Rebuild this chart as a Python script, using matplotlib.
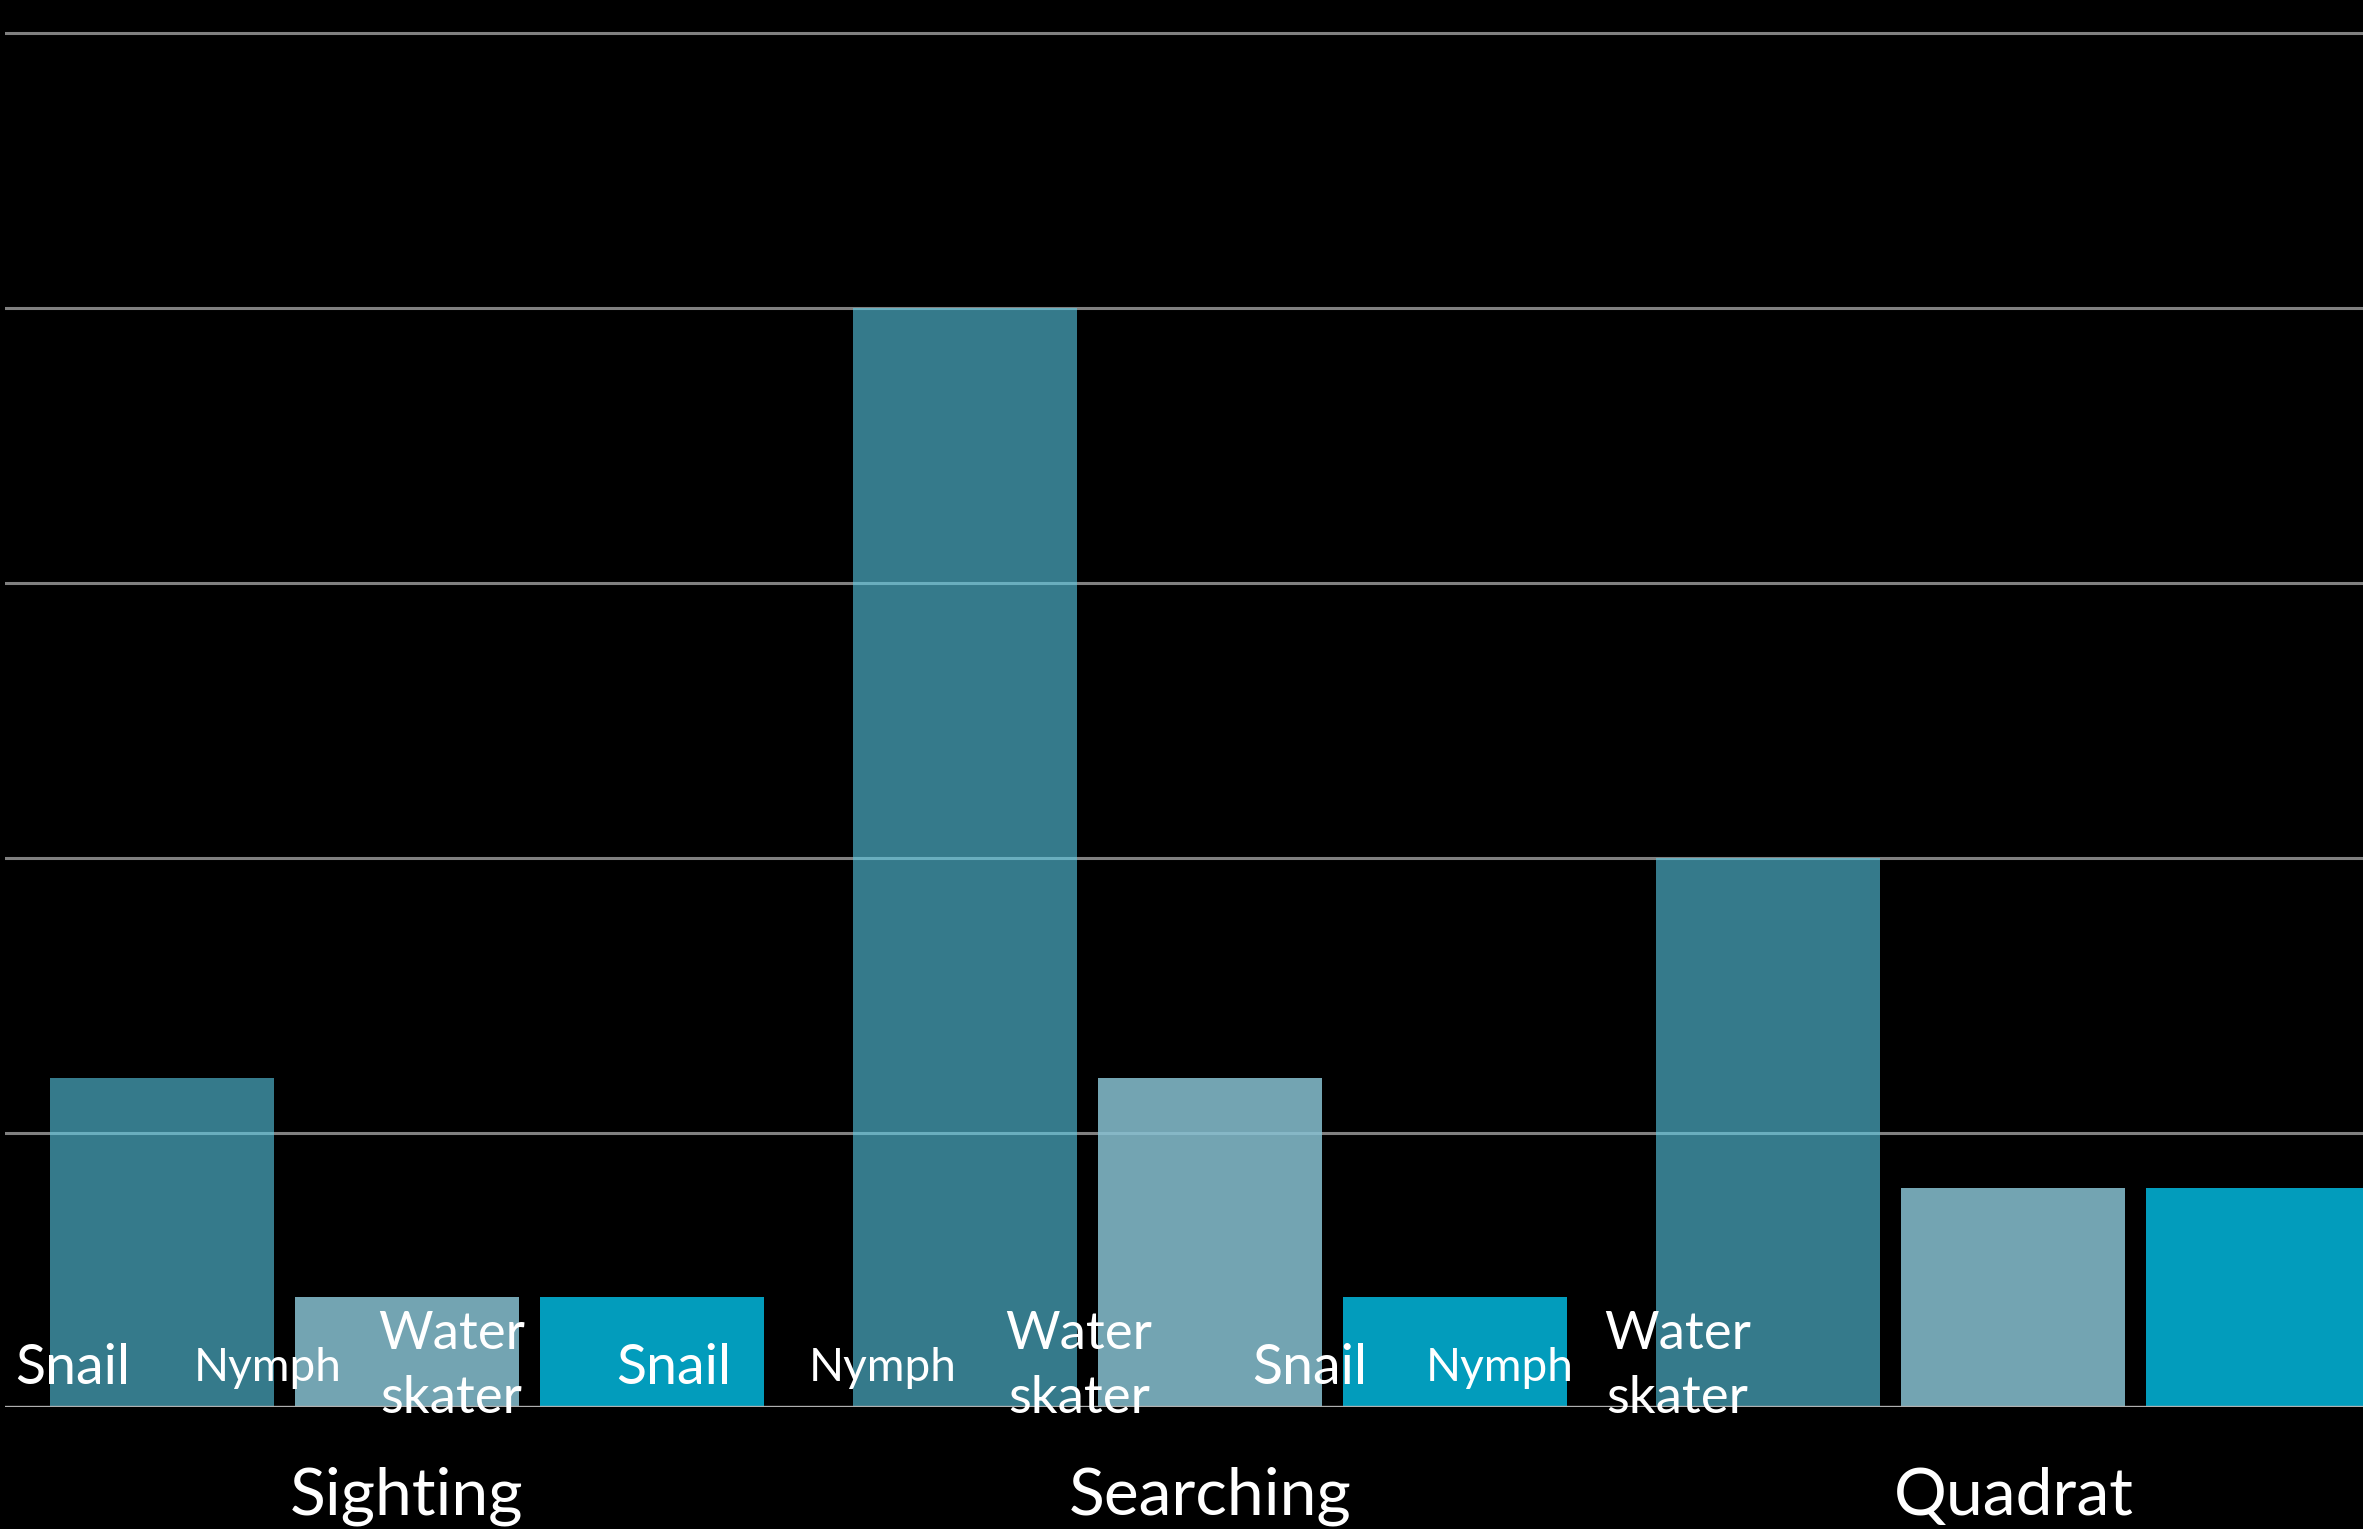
import numpy as np
import matplotlib
matplotlib.use("Agg")
import matplotlib.pyplot as plt

plt.rcParams["font.family"] = ["Lato", "DejaVu Sans"]

# data
methods = ["Sighting", "Searching", "Quadrat"]
series_names = ["Snail", "Nymph", "Water skater"]
snail = [1.2, 4, 2]
nymph = [0.4, 1.2, 0.8]
water_skater = [0.4, 0.4, 0.8]

# the small labels sit along the bottom, not lined up with the bars
small_labels = ["Snail", "Nymph", "Water\nskater"] * 3
small_label_x = [-0.416, -0.173, 0.056, 0.332, 0.593, 0.837, 1.124, 1.361, 1.582]

bar_colors = ["#5ACDE9", "#88C2D3", "#029CBC"]
bar_alphas = [0.6, 0.85, 1.0]

fig = plt.figure(figsize=(23.63, 15.29), dpi=100, facecolor="black")
ax = fig.add_axes([0.0021, 0.0795, 1.0199, 0.917])
ax.set_facecolor("black")

x = np.arange(len(methods))
width = 0.279
step = 0.305

for i, vals in enumerate([snail, nymph, water_skater]):
    ax.bar(
        x + (i - 1) * step,
        vals,
        width=width,
        color=bar_colors[i],
        alpha=bar_alphas[i],
        zorder=2
    )

ax.set_xlim(-0.5, 2.5)
ax.set_ylim(0, 5.1)
ax.set_yticks([1, 2, 3, 4, 5])
ax.yaxis.grid(True, color="#808080", linewidth=2.2, zorder=1)
ax.set_axisbelow(True)
ax.axhline(0, color="#b0b0b0", linewidth=2.4, zorder=3)

ax.tick_params(left=False, bottom=False, labelleft=False, labelbottom=False)
for s in ax.spines.values():
    s.set_visible(False)

for lab, lx in zip(small_labels, small_label_x):
    if lab == "Nymph":
        ax.text(lx, 0.095, lab, color="white", fontsize=33,
                ha="center", va="baseline", zorder=4)
    elif lab == "Snail":
        ax.text(lx, 0.084, lab, color="white", fontsize=40,
                ha="center", va="baseline", zorder=4)
    else:
        ax.text(lx, 0.35, lab, color="white", fontsize=38,
                ha="center", va="top", linespacing=1.45, zorder=4)

for xi, m in zip(x, methods):
    ax.text(xi, -0.39, m, color="white", fontsize=47.5,
            ha="center", va="baseline")

fig.savefig("out.png", dpi=100, facecolor="black")
